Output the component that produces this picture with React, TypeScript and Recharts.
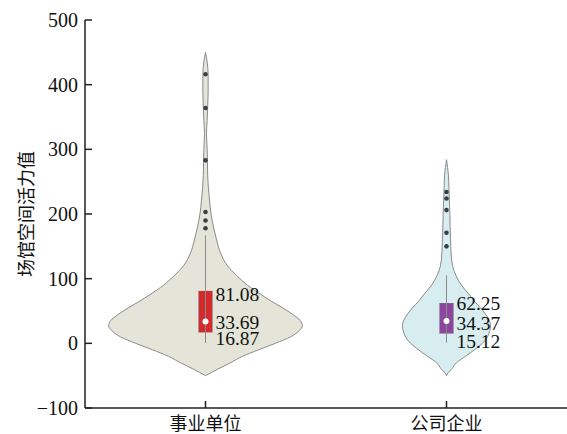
import { ComposedChart, Area, Line, Scatter, XAxis, YAxis } from 'recharts';

const categories = ['事业单位', '公司企业'];
const centers = [0.5, 1.5];
const yTicks = [-100, 0, 100, 200, 300, 400, 500];

// violin outlines: value levels and half widths (category units)
const levelsA = [-50, -45, -40, -30, -20, -10, 0, 10, 20, 27, 35, 45, 55, 65, 75, 90, 105, 120, 140, 160, 180, 200, 220, 240, 260, 284, 300, 325, 345, 365, 390, 415, 435, 450];
const halfA = [0, 0.025, 0.05, 0.104, 0.154, 0.22, 0.29, 0.353, 0.39, 0.402, 0.394, 0.361, 0.32, 0.274, 0.232, 0.174, 0.129, 0.091, 0.062, 0.046, 0.033, 0.023, 0.017, 0.012, 0.009, 0.008, 0.007, 0.004, 0.007, 0.009, 0.011, 0.011, 0.007, 0];
const levelsB = [-50, -45, -40, -30, -20, -10, 0, 10, 20, 27, 35, 45, 55, 65, 75, 90, 105, 120, 140, 160, 180, 200, 220, 240, 260, 284];
const halfB = [0, 0.008, 0.021, 0.041, 0.079, 0.116, 0.149, 0.17, 0.18, 0.183, 0.178, 0.162, 0.141, 0.116, 0.095, 0.062, 0.039, 0.025, 0.019, 0.017, 0.015, 0.014, 0.012, 0.01, 0.008, 0];

// box plot stats
const q1 = [16.87, 15.12];
const medians = [33.69, 34.37];
const q3 = [81.08, 62.25];
const whiskerLow = [0.5, 1.2];
const whiskerHigh = [167, 105];
const outliersA = [178, 190, 203, 283, 364, 416];
const outliersB = [150, 171, 206, 224, 234];

const labelNudge = [
  [4, 1, 6],
  [0, 2, 8],
];

const BOX_HALF = 0.029;
const violinFill = ['#e4e5d8', '#d8edf0'];
const boxFill = ['#d42a2e', '#8c46a0'];
const SERIF = '"Liberation Serif", "Times New Roman", serif';
const CJK = '"Noto Sans CJK SC", sans-serif';

const violinRows = (levels: number[], half: number[], c: number) =>
  levels.map((v, i) => ({ v, r: [c - half[i], c + half[i]] }));

const boxRows = (i: number) => [
  { v: q1[i], r: [centers[i] - BOX_HALF, centers[i] + BOX_HALF] },
  { v: q3[i], r: [centers[i] - BOX_HALF, centers[i] + BOX_HALF] },
];

const whiskerRows = (i: number) => [
  { v: whiskerLow[i], p: centers[i] },
  { v: q1[i], p: centers[i] },
  { v: (q1[i] + q3[i]) / 2, p: null },
  { v: q3[i], p: centers[i] },
  { v: whiskerHigh[i], p: centers[i] },
];

const labelRows = (i: number) =>
  [q3[i], medians[i], q1[i]].map((v, k) => ({ v, p: centers[i] + BOX_HALF, text: v.toFixed(2), nudge: labelNudge[i][k] }));

const fmtY = (v: number) => (v < 0 ? `\u2212${Math.abs(v)}` : `${v}`);
const fmtX = (v: number) => categories[centers.indexOf(v)] ?? '';

const YTitle = (props: any) => {
  const vb = props.viewBox || { x: 0, y: 20, width: 85, height: 388 };
  const cx = vb.x + 25;
  const cy = vb.y + vb.height / 2;
  return (
    <text x={cx} y={cy} transform={`rotate(-90 ${cx} ${cy})`} textAnchor="middle" dominantBaseline="central"
      fontFamily={CJK} fontSize={18} fill="#111">
      场馆空间活力值
    </text>
  );
};

const Dot = (props: any) => <circle cx={props.cx} cy={props.cy} r={2.3} fill="#3a3f4a" />;
const MedianDot = (props: any) => <circle cx={props.cx} cy={props.cy} r={3} fill="#ffffff" />;
const ValueLabel = (props: any) => (
  <text x={props.cx + 3} y={props.cy + props.payload.nudge} dominantBaseline="central" fontFamily={SERIF} fontSize={19.5} fill="#111">
    {props.payload.text}
  </text>
);

export default function App() {
  const axisStroke = { stroke: '#222', strokeWidth: 1.5 };
  return (
    <div style={{ position: 'absolute', left: 0, top: 0, width: 567, height: 434, background: '#fff' }}>
      <ComposedChart width={567} height={434} layout="vertical" margin={{ top: 20, right: 0, bottom: 0, left: 0 }}>
        <XAxis
          type="number"
          dataKey="p"
          domain={[0, 2]}
          ticks={centers}
          tickFormatter={fmtX}
          height={26}
          tickSize={-7}
          tickMargin={16}
          axisLine={axisStroke}
          tickLine={axisStroke}
          tick={{ fontFamily: CJK, fontSize: 18, fill: '#111' }}
        />
        <YAxis
          type="number"
          dataKey="v"
          domain={[-100, 500]}
          allowDataOverflow
          ticks={yTicks}
          tickFormatter={fmtY}
          reversed
          width={85}
          tickSize={-7}
          tickMargin={14}
          axisLine={axisStroke}
          tickLine={axisStroke}
          tick={{ fontFamily: SERIF, fontSize: 20, fill: '#111' }}
          label={{ content: YTitle }}
        />
        <Area data={violinRows(levelsA, halfA, centers[0])} dataKey="r" type="monotone" fill={violinFill[0]} fillOpacity={1} stroke="#8a8a8a" strokeWidth={1} isAnimationActive={false} />
        <Area data={violinRows(levelsB, halfB, centers[1])} dataKey="r" type="monotone" fill={violinFill[1]} fillOpacity={1} stroke="#8a8a8a" strokeWidth={1} isAnimationActive={false} />
        <Line data={whiskerRows(0)} dataKey="p" type="linear" stroke="#8a8a8a" strokeWidth={1} dot={false} isAnimationActive={false} />
        <Line data={whiskerRows(1)} dataKey="p" type="linear" stroke="#8a8a8a" strokeWidth={1} dot={false} isAnimationActive={false} />
        <Area data={boxRows(0)} dataKey="r" type="linear" fill={boxFill[0]} fillOpacity={1} stroke="#9a9a9a" strokeWidth={0.8} isAnimationActive={false} />
        <Area data={boxRows(1)} dataKey="r" type="linear" fill={boxFill[1]} fillOpacity={1} stroke="#9a9a9a" strokeWidth={0.8} isAnimationActive={false} />
        <Scatter data={outliersA.map((v) => ({ v, p: centers[0] }))} dataKey="p" shape={Dot} isAnimationActive={false} />
        <Scatter data={outliersB.map((v) => ({ v, p: centers[1] }))} dataKey="p" shape={Dot} isAnimationActive={false} />
        <Scatter data={medians.map((v, i) => ({ v, p: centers[i] }))} dataKey="p" shape={MedianDot} isAnimationActive={false} />
        <Scatter data={[...labelRows(0), ...labelRows(1)]} dataKey="p" shape={ValueLabel} isAnimationActive={false} />
      </ComposedChart>
    </div>
  );
}
